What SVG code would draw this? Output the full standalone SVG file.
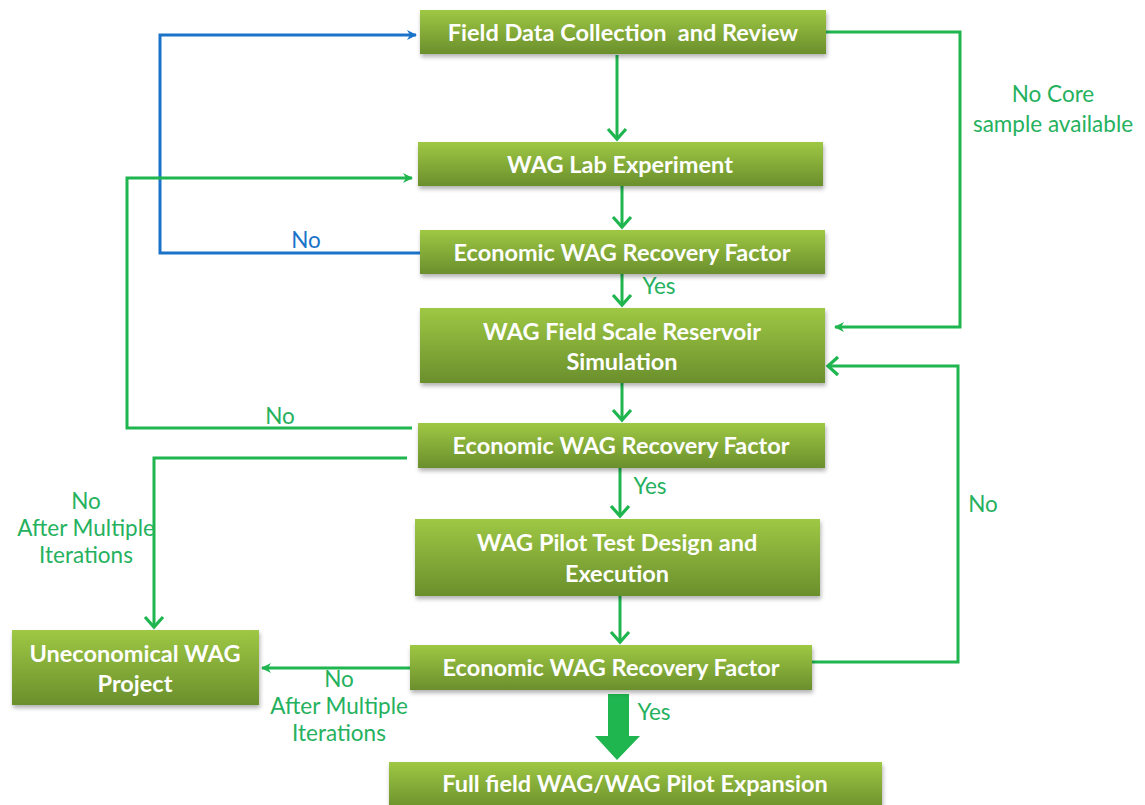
<svg xmlns="http://www.w3.org/2000/svg" width="1145" height="805" viewBox="0 0 1145 805">
<defs>
<linearGradient id="g" x1="0" y1="0" x2="0" y2="1">
<stop offset="0" stop-color="#9ec844"/>
<stop offset="1" stop-color="#6a8f2c"/>
</linearGradient>
<filter id="sh" x="-5%" y="-20%" width="110%" height="150%">
<feDropShadow dx="1" dy="3" stdDeviation="2" flood-color="#000" flood-opacity="0.3"/>
</filter>
<marker id="chev" markerWidth="10" markerHeight="10" refX="8" refY="5" orient="auto" markerUnits="userSpaceOnUse" viewBox="0 0 10 10" overflow="visible">
<path d="M-2,-4 L8,5 L-2,14" fill="none" stroke="#1fb54f" stroke-width="3.2"/>
</marker>
<marker id="tri" markerWidth="10" markerHeight="10" refX="9" refY="5" orient="auto" markerUnits="userSpaceOnUse" viewBox="0 0 10 10">
<path d="M0,0 L10,5 L0,10 L3,5 Z" fill="#1fb54f"/>
</marker>
<marker id="trib" markerWidth="10" markerHeight="10" refX="9" refY="5" orient="auto" markerUnits="userSpaceOnUse" viewBox="0 0 10 10">
<path d="M0,0 L10,5 L0,10 L3,5 Z" fill="#1a73c9"/>
</marker>
</defs>
<style>
.box{fill:url(#g);filter:url(#sh)}
.t{font-family:Lato,"Liberation Sans",sans-serif;font-weight:bold;font-size:23.5px;fill:#fff;text-anchor:middle;white-space:pre}
.l{font-family:Lato,"Liberation Sans",sans-serif;font-size:22.5px;fill:#25b15e;text-anchor:middle}
.c{fill:none;stroke:#1fb54f;stroke-width:3}
.cb{fill:none;stroke:#1a73c9;stroke-width:3}
</style>
<rect width="1145" height="805" fill="#fff"/>

<g id="connectors">
<path class="c" d="M617,55 V139" marker-end="url(#chev)"/>
<path class="c" d="M622,186 V227" marker-end="url(#chev)"/>
<path class="c" d="M622,274 V305" marker-end="url(#chev)"/>
<path class="c" d="M622,383 V420" marker-end="url(#chev)"/>
<path class="c" d="M620,468 V516" marker-end="url(#chev)"/>
<path class="c" d="M620,596 V642" marker-end="url(#chev)"/>
<path d="M608,694 H629 V736 H640 L617,760 L595,736 H608 Z" fill="#1fb54f"/>
<path class="cb" d="M420,253 H160 V35 H416" marker-end="url(#trib)"/>
<path class="c" d="M412,428 H127 V178 H412" marker-end="url(#tri)"/>
<path class="c" d="M407,458 H154 V627" marker-end="url(#chev)"/>
<path class="c" d="M410,668 H262" marker-end="url(#tri)"/>
<path class="c" d="M826,32 H960 V327 H835" marker-end="url(#tri)"/>
<path class="c" d="M812,662 H958 V366 H828" marker-end="url(#chev)"/>
<text class="l" x="306" y="248" style="fill:#1a73c9">No</text>
<text class="l" x="280" y="424">No</text>
<text class="l" x="659" y="294">Yes</text>
<text class="l" x="650" y="494">Yes</text>
<text class="l" x="654" y="720">Yes</text>
<text class="l" x="1053" y="102">No Core</text>
<text class="l" x="1053" y="132">sample available</text>
<text class="l" x="983" y="512">No</text>
<text class="l" x="86" y="509">No</text>
<text class="l" x="86" y="536">After Multiple</text>
<text class="l" x="86" y="563">Iterations</text>
<text class="l" x="339" y="687">No</text>
<text class="l" x="339" y="714">After Multiple</text>
<text class="l" x="339" y="741">Iterations</text>
</g>

<g id="n1"><rect class="box" x="420" y="10" width="406" height="44"/><text class="t" x="623" y="41">Field Data Collection  and Review</text></g>
<g id="n2"><rect class="box" x="418" y="142" width="405" height="44"/><text class="t" x="620" y="173">WAG Lab Experiment</text></g>
<g id="n3"><rect class="box" x="420" y="230" width="405" height="44"/><text class="t" x="622" y="261">Economic WAG Recovery Factor</text></g>
<g id="n4"><rect class="box" x="420" y="308" width="405" height="75"/><text class="t" x="622" y="340">WAG Field Scale Reservoir</text><text class="t" x="622" y="370">Simulation</text></g>
<g id="n5"><rect class="box" x="418" y="423" width="407" height="45"/><text class="t" x="621" y="454">Economic WAG Recovery Factor</text></g>
<g id="n6"><rect class="box" x="415" y="519" width="405" height="77"/><text class="t" x="617" y="551">WAG Pilot Test Design and</text><text class="t" x="617" y="582">Execution</text></g>
<g id="n7"><rect class="box" x="410" y="645" width="402" height="45"/><text class="t" x="611" y="676">Economic WAG Recovery Factor</text></g>
<g id="n8"><rect class="box" x="389" y="762" width="493" height="48"/><text class="t" x="635" y="792">Full field WAG/WAG Pilot Expansion</text></g>
<g id="n9"><rect class="box" x="12" y="630" width="247" height="75"/><text class="t" x="135" y="662">Uneconomical WAG</text><text class="t" x="135" y="692">Project</text></g>
</svg>
